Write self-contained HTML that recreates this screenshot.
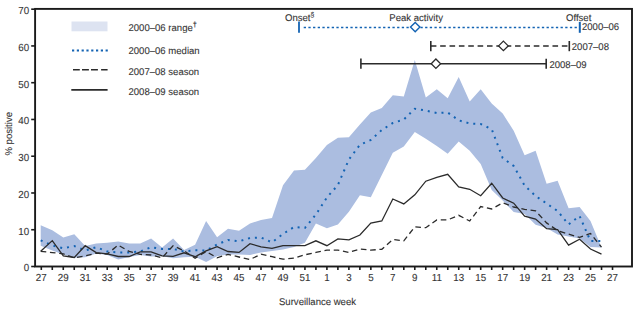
<!DOCTYPE html>
<html><head><meta charset="utf-8"><style>
html,body{margin:0;padding:0;background:#fff;}
svg{display:block;}
text{font-family:"Liberation Sans", sans-serif;text-rendering:geometricPrecision;stroke:#3a3a3a;stroke-width:0.1px;}
</style></head><body>
<svg width="641" height="310" viewBox="0 0 641 310">
<rect x="0" y="0" width="641" height="310" fill="#fff"/>
<polygon points="40.7,225.3 52.3,230.2 63.3,237.4 74.3,234.3 85.2,246.1 96.2,243.5 107.2,242.8 118.2,241.4 129.2,243.4 140.2,243.4 151.1,238.5 162.1,247.6 173.1,238.5 184.1,250.1 195.1,244.7 206.1,221.1 217.1,237.3 228.0,228.8 239.0,230.8 250.0,223.4 261.0,220.0 272.0,218.0 283.0,185.3 294.0,170.5 304.9,169.8 315.9,158.0 326.9,145.0 337.9,137.8 348.9,137.2 359.9,124.5 370.8,112.5 381.8,108.0 392.8,95.3 403.8,96.6 414.8,59.9 425.8,97.6 436.8,89.3 447.7,98.2 458.7,76.9 469.7,101.5 480.7,89.3 491.7,103.4 502.7,113.4 513.7,130.8 524.6,155.3 535.6,150.8 546.6,183.7 557.6,180.8 568.6,208.2 579.6,206.9 590.5,221.0 601.5,247.5 601.5,247.5 590.5,247.0 579.6,238.4 568.6,236.5 557.6,234.5 546.6,228.0 535.6,224.8 524.6,214.0 513.7,212.0 502.7,200.6 491.7,190.0 480.7,164.0 469.7,150.8 458.7,141.5 447.7,153.7 436.8,146.0 425.8,138.8 414.8,131.9 403.8,146.6 392.8,152.8 381.8,175.0 370.8,197.3 359.9,195.3 348.9,211.8 337.9,224.4 326.9,228.2 315.9,223.4 304.9,242.8 294.0,247.0 283.0,249.5 272.0,251.0 261.0,252.4 250.0,255.0 239.0,254.5 228.0,254.5 217.1,256.3 206.1,262.1 195.1,256.7 184.1,257.3 173.1,258.2 162.1,256.3 151.1,256.5 140.2,255.0 129.2,257.0 118.2,259.6 107.2,255.0 96.2,253.5 85.2,257.3 74.3,257.8 63.3,254.4 52.3,250.5 40.7,245.7" fill="#abbde0"/>
<polyline points="40.7,240.3 52.3,245.5 63.3,248.2 74.3,246.1 85.2,250.5 96.2,247.2 107.2,251.5 118.2,252.4 129.2,252.4 140.2,251.5 151.1,247.2 162.1,249.0 173.1,249.0 184.1,251.5 195.1,250.3 206.1,250.5 217.1,244.5 228.0,240.0 239.0,241.4 250.0,238.0 261.0,237.5 272.0,242.4 283.0,234.0 294.0,227.0 304.9,227.9 315.9,214.5 326.9,197.5 337.9,185.0 348.9,159.5 359.9,144.8 370.8,140.0 381.8,130.0 392.8,123.0 403.8,119.5 414.8,108.7 425.8,110.6 436.8,113.0 447.7,112.5 458.7,120.3 469.7,123.5 480.7,124.0 491.7,129.2 502.7,158.0 513.7,166.0 524.6,185.5 535.6,196.0 546.6,203.5 557.6,211.0 568.6,224.5 579.6,216.0 590.5,241.0 601.5,241.0" fill="none" stroke="#1363b3" stroke-width="2" stroke-dasharray="2 4.95"/>
<polyline points="40.7,251.3 52.3,252.6 63.3,253.9 74.3,257.8 85.2,255.8 96.2,253.2 107.2,254.0 118.2,245.1 129.2,251.5 140.2,254.4 151.1,255.0 162.1,257.8 173.1,245.7 184.1,250.9 195.1,258.2 206.1,251.5 217.1,257.8 228.0,254.4 239.0,257.0 250.0,259.5 261.0,254.2 272.0,256.7 283.0,259.2 294.0,258.2 304.9,254.8 315.9,252.4 326.9,250.1 337.9,250.1 348.9,252.4 359.9,249.0 370.8,250.1 381.8,249.3 392.8,239.5 403.8,240.8 414.8,226.9 425.8,227.7 436.8,219.9 447.7,219.9 458.7,215.3 469.7,221.0 480.7,206.5 491.7,209.0 502.7,202.8 513.7,207.0 524.6,209.3 535.6,210.9 546.6,222.9 557.6,230.6 568.6,234.1 579.6,237.4 590.5,233.5 601.5,247.1" fill="none" stroke="#2b2b2b" stroke-width="1.3" stroke-dasharray="5.6 3.7"/>
<polyline points="40.7,251.3 52.3,240.6 63.3,255.8 74.3,257.5 85.2,245.7 96.2,252.6 107.2,253.8 118.2,256.5 129.2,256.5 140.2,251.8 151.1,251.8 162.1,255.9 173.1,256.3 184.1,252.8 195.1,256.7 206.1,250.9 217.1,246.6 228.0,251.5 239.0,252.4 250.0,243.7 261.0,246.8 272.0,248.4 283.0,245.7 294.0,245.7 304.9,245.7 315.9,240.8 326.9,245.7 337.9,238.9 348.9,239.9 359.9,235.0 370.8,223.0 381.8,221.0 392.8,199.0 403.8,203.9 414.8,194.8 425.8,181.2 436.8,177.4 447.7,174.3 458.7,187.0 469.7,189.3 480.7,195.7 491.7,183.2 502.7,198.0 513.7,203.2 524.6,216.1 535.6,219.0 546.6,228.7 557.6,229.7 568.6,245.1 579.6,239.3 590.5,249.0 601.5,254.2" fill="none" stroke="#2b2b2b" stroke-width="1.3"/>
<rect x="35.1" y="8.9" width="596.9" height="257.6" fill="none" stroke="#1a1a1a" stroke-width="1.9"/>
<line x1="31.2" y1="266.50" x2="35" y2="266.50" stroke="#1a1a1a" stroke-width="1.6"/><text transform="translate(29.20,271.40) scale(0.96,1)" text-anchor="end" font-size="10.2" fill="#333333">0</text><line x1="31.2" y1="229.74" x2="35" y2="229.74" stroke="#1a1a1a" stroke-width="1.6"/><text transform="translate(29.20,234.64) scale(0.96,1)" text-anchor="end" font-size="10.2" fill="#333333">10</text><line x1="31.2" y1="192.98" x2="35" y2="192.98" stroke="#1a1a1a" stroke-width="1.6"/><text transform="translate(29.20,197.88) scale(0.96,1)" text-anchor="end" font-size="10.2" fill="#333333">20</text><line x1="31.2" y1="156.22" x2="35" y2="156.22" stroke="#1a1a1a" stroke-width="1.6"/><text transform="translate(29.20,161.12) scale(0.96,1)" text-anchor="end" font-size="10.2" fill="#333333">30</text><line x1="31.2" y1="119.46" x2="35" y2="119.46" stroke="#1a1a1a" stroke-width="1.6"/><text transform="translate(29.20,124.36) scale(0.96,1)" text-anchor="end" font-size="10.2" fill="#333333">40</text><line x1="31.2" y1="82.70" x2="35" y2="82.70" stroke="#1a1a1a" stroke-width="1.6"/><text transform="translate(29.20,87.60) scale(0.96,1)" text-anchor="end" font-size="10.2" fill="#333333">50</text><line x1="31.2" y1="45.94" x2="35" y2="45.94" stroke="#1a1a1a" stroke-width="1.6"/><text transform="translate(29.20,50.84) scale(0.96,1)" text-anchor="end" font-size="10.2" fill="#333333">60</text><line x1="31.2" y1="9.18" x2="35" y2="9.18" stroke="#1a1a1a" stroke-width="1.6"/><text transform="translate(29.20,14.08) scale(0.96,1)" text-anchor="end" font-size="10.2" fill="#333333">70</text><line x1="41.30" y1="266.5" x2="41.30" y2="270" stroke="#1a1a1a" stroke-width="1.6"/><text transform="translate(41.30,280.80) scale(0.96,1)" text-anchor="middle" font-size="10.2" fill="#333333">27</text><line x1="52.28" y1="266.5" x2="52.28" y2="270" stroke="#1a1a1a" stroke-width="1.6"/><line x1="63.27" y1="266.5" x2="63.27" y2="270" stroke="#1a1a1a" stroke-width="1.6"/><text transform="translate(63.27,280.80) scale(0.96,1)" text-anchor="middle" font-size="10.2" fill="#333333">29</text><line x1="74.25" y1="266.5" x2="74.25" y2="270" stroke="#1a1a1a" stroke-width="1.6"/><line x1="85.24" y1="266.5" x2="85.24" y2="270" stroke="#1a1a1a" stroke-width="1.6"/><text transform="translate(85.24,280.80) scale(0.96,1)" text-anchor="middle" font-size="10.2" fill="#333333">31</text><line x1="96.22" y1="266.5" x2="96.22" y2="270" stroke="#1a1a1a" stroke-width="1.6"/><line x1="107.21" y1="266.5" x2="107.21" y2="270" stroke="#1a1a1a" stroke-width="1.6"/><text transform="translate(107.21,280.80) scale(0.96,1)" text-anchor="middle" font-size="10.2" fill="#333333">33</text><line x1="118.19" y1="266.5" x2="118.19" y2="270" stroke="#1a1a1a" stroke-width="1.6"/><line x1="129.18" y1="266.5" x2="129.18" y2="270" stroke="#1a1a1a" stroke-width="1.6"/><text transform="translate(129.18,280.80) scale(0.96,1)" text-anchor="middle" font-size="10.2" fill="#333333">35</text><line x1="140.16" y1="266.5" x2="140.16" y2="270" stroke="#1a1a1a" stroke-width="1.6"/><line x1="151.15" y1="266.5" x2="151.15" y2="270" stroke="#1a1a1a" stroke-width="1.6"/><text transform="translate(151.15,280.80) scale(0.96,1)" text-anchor="middle" font-size="10.2" fill="#333333">37</text><line x1="162.13" y1="266.5" x2="162.13" y2="270" stroke="#1a1a1a" stroke-width="1.6"/><line x1="173.12" y1="266.5" x2="173.12" y2="270" stroke="#1a1a1a" stroke-width="1.6"/><text transform="translate(173.12,280.80) scale(0.96,1)" text-anchor="middle" font-size="10.2" fill="#333333">39</text><line x1="184.11" y1="266.5" x2="184.11" y2="270" stroke="#1a1a1a" stroke-width="1.6"/><line x1="195.09" y1="266.5" x2="195.09" y2="270" stroke="#1a1a1a" stroke-width="1.6"/><text transform="translate(195.09,280.80) scale(0.96,1)" text-anchor="middle" font-size="10.2" fill="#333333">41</text><line x1="206.07" y1="266.5" x2="206.07" y2="270" stroke="#1a1a1a" stroke-width="1.6"/><line x1="217.06" y1="266.5" x2="217.06" y2="270" stroke="#1a1a1a" stroke-width="1.6"/><text transform="translate(217.06,280.80) scale(0.96,1)" text-anchor="middle" font-size="10.2" fill="#333333">43</text><line x1="228.05" y1="266.5" x2="228.05" y2="270" stroke="#1a1a1a" stroke-width="1.6"/><line x1="239.03" y1="266.5" x2="239.03" y2="270" stroke="#1a1a1a" stroke-width="1.6"/><text transform="translate(239.03,280.80) scale(0.96,1)" text-anchor="middle" font-size="10.2" fill="#333333">45</text><line x1="250.01" y1="266.5" x2="250.01" y2="270" stroke="#1a1a1a" stroke-width="1.6"/><line x1="261.00" y1="266.5" x2="261.00" y2="270" stroke="#1a1a1a" stroke-width="1.6"/><text transform="translate(261.00,280.80) scale(0.96,1)" text-anchor="middle" font-size="10.2" fill="#333333">47</text><line x1="271.99" y1="266.5" x2="271.99" y2="270" stroke="#1a1a1a" stroke-width="1.6"/><line x1="282.97" y1="266.5" x2="282.97" y2="270" stroke="#1a1a1a" stroke-width="1.6"/><text transform="translate(282.97,280.80) scale(0.96,1)" text-anchor="middle" font-size="10.2" fill="#333333">49</text><line x1="293.95" y1="266.5" x2="293.95" y2="270" stroke="#1a1a1a" stroke-width="1.6"/><line x1="304.94" y1="266.5" x2="304.94" y2="270" stroke="#1a1a1a" stroke-width="1.6"/><text transform="translate(304.94,280.80) scale(0.96,1)" text-anchor="middle" font-size="10.2" fill="#333333">51</text><line x1="315.93" y1="266.5" x2="315.93" y2="270" stroke="#1a1a1a" stroke-width="1.6"/><line x1="326.91" y1="266.5" x2="326.91" y2="270" stroke="#1a1a1a" stroke-width="1.6"/><text transform="translate(326.91,280.80) scale(0.96,1)" text-anchor="middle" font-size="10.2" fill="#333333">1</text><line x1="337.89" y1="266.5" x2="337.89" y2="270" stroke="#1a1a1a" stroke-width="1.6"/><line x1="348.88" y1="266.5" x2="348.88" y2="270" stroke="#1a1a1a" stroke-width="1.6"/><text transform="translate(348.88,280.80) scale(0.96,1)" text-anchor="middle" font-size="10.2" fill="#333333">3</text><line x1="359.87" y1="266.5" x2="359.87" y2="270" stroke="#1a1a1a" stroke-width="1.6"/><line x1="370.85" y1="266.5" x2="370.85" y2="270" stroke="#1a1a1a" stroke-width="1.6"/><text transform="translate(370.85,280.80) scale(0.96,1)" text-anchor="middle" font-size="10.2" fill="#333333">5</text><line x1="381.83" y1="266.5" x2="381.83" y2="270" stroke="#1a1a1a" stroke-width="1.6"/><line x1="392.82" y1="266.5" x2="392.82" y2="270" stroke="#1a1a1a" stroke-width="1.6"/><text transform="translate(392.82,280.80) scale(0.96,1)" text-anchor="middle" font-size="10.2" fill="#333333">7</text><line x1="403.81" y1="266.5" x2="403.81" y2="270" stroke="#1a1a1a" stroke-width="1.6"/><line x1="414.79" y1="266.5" x2="414.79" y2="270" stroke="#1a1a1a" stroke-width="1.6"/><text transform="translate(414.79,280.80) scale(0.96,1)" text-anchor="middle" font-size="10.2" fill="#333333">9</text><line x1="425.77" y1="266.5" x2="425.77" y2="270" stroke="#1a1a1a" stroke-width="1.6"/><line x1="436.76" y1="266.5" x2="436.76" y2="270" stroke="#1a1a1a" stroke-width="1.6"/><text transform="translate(436.76,280.80) scale(0.96,1)" text-anchor="middle" font-size="10.2" fill="#333333">11</text><line x1="447.75" y1="266.5" x2="447.75" y2="270" stroke="#1a1a1a" stroke-width="1.6"/><line x1="458.73" y1="266.5" x2="458.73" y2="270" stroke="#1a1a1a" stroke-width="1.6"/><text transform="translate(458.73,280.80) scale(0.96,1)" text-anchor="middle" font-size="10.2" fill="#333333">13</text><line x1="469.71" y1="266.5" x2="469.71" y2="270" stroke="#1a1a1a" stroke-width="1.6"/><line x1="480.70" y1="266.5" x2="480.70" y2="270" stroke="#1a1a1a" stroke-width="1.6"/><text transform="translate(480.70,280.80) scale(0.96,1)" text-anchor="middle" font-size="10.2" fill="#333333">15</text><line x1="491.69" y1="266.5" x2="491.69" y2="270" stroke="#1a1a1a" stroke-width="1.6"/><line x1="502.67" y1="266.5" x2="502.67" y2="270" stroke="#1a1a1a" stroke-width="1.6"/><text transform="translate(502.67,280.80) scale(0.96,1)" text-anchor="middle" font-size="10.2" fill="#333333">17</text><line x1="513.65" y1="266.5" x2="513.65" y2="270" stroke="#1a1a1a" stroke-width="1.6"/><line x1="524.64" y1="266.5" x2="524.64" y2="270" stroke="#1a1a1a" stroke-width="1.6"/><text transform="translate(524.64,280.80) scale(0.96,1)" text-anchor="middle" font-size="10.2" fill="#333333">19</text><line x1="535.62" y1="266.5" x2="535.62" y2="270" stroke="#1a1a1a" stroke-width="1.6"/><line x1="546.61" y1="266.5" x2="546.61" y2="270" stroke="#1a1a1a" stroke-width="1.6"/><text transform="translate(546.61,280.80) scale(0.96,1)" text-anchor="middle" font-size="10.2" fill="#333333">21</text><line x1="557.59" y1="266.5" x2="557.59" y2="270" stroke="#1a1a1a" stroke-width="1.6"/><line x1="568.58" y1="266.5" x2="568.58" y2="270" stroke="#1a1a1a" stroke-width="1.6"/><text transform="translate(568.58,280.80) scale(0.96,1)" text-anchor="middle" font-size="10.2" fill="#333333">23</text><line x1="579.56" y1="266.5" x2="579.56" y2="270" stroke="#1a1a1a" stroke-width="1.6"/><line x1="590.55" y1="266.5" x2="590.55" y2="270" stroke="#1a1a1a" stroke-width="1.6"/><text transform="translate(590.55,280.80) scale(0.96,1)" text-anchor="middle" font-size="10.2" fill="#333333">25</text><line x1="601.53" y1="266.5" x2="601.53" y2="270" stroke="#1a1a1a" stroke-width="1.6"/><line x1="612.52" y1="266.5" x2="612.52" y2="270" stroke="#1a1a1a" stroke-width="1.6"/><text transform="translate(612.52,280.80) scale(0.96,1)" text-anchor="middle" font-size="10.2" fill="#333333">27</text>
<text transform="translate(11.5,133.8) rotate(-90) scale(0.975,1)" text-anchor="middle" font-size="9.8" fill="#333333">% positive</text>
<text transform="translate(317.50,304.70) scale(0.975,1)" text-anchor="middle" font-size="9.8" fill="#333333">Surveillance week</text>
<!-- legend -->
<rect x="71.5" y="21.5" width="36" height="9.8" fill="#dde3f1"/>
<line x1="72" y1="50.6" x2="108" y2="50.6" stroke="#1363b3" stroke-width="2" stroke-dasharray="2.2 2.6"/>
<path d="M73,69.8H79.8M82,69.8H88.9M91,69.8H97.9M101.1,69.8H107.6" stroke="#2b2b2b" stroke-width="1.6"/>
<line x1="71.3" y1="89.9" x2="107.6" y2="89.9" stroke="#2b2b2b" stroke-width="1.6"/>
<text transform="translate(128.50,31.00) scale(0.975,1)" text-anchor="start" font-size="9.8" fill="#333333">2000–06 range<tspan font-size="7.5" dy="-4.2" font-weight="bold">†</tspan></text>
<text transform="translate(128.50,53.90) scale(0.975,1)" text-anchor="start" font-size="9.8" fill="#333333">2000–06 median</text>
<text transform="translate(128.50,74.50) scale(0.975,1)" text-anchor="start" font-size="9.8" fill="#333333">2007–08 season</text>
<text transform="translate(128.50,94.60) scale(0.975,1)" text-anchor="start" font-size="9.8" fill="#333333">2008–09 season</text>
<!-- annotations -->
<text transform="translate(285.00,20.60) scale(0.975,1)" text-anchor="start" font-size="9.8" fill="#333333">Onset<tspan font-size="7" dy="-4">§</tspan></text>
<text transform="translate(389.30,20.60) scale(0.975,1)" text-anchor="start" font-size="9.8" fill="#333333">Peak activity</text>
<text transform="translate(566.00,20.90) scale(0.975,1)" text-anchor="start" font-size="9.8" fill="#333333">Offset</text>
<line x1="303.7" y1="27.5" x2="578" y2="27.5" stroke="#1363b3" stroke-width="1.6" stroke-dasharray="2.3 2.37"/>
<line x1="299" y1="21.5" x2="299" y2="32.7" stroke="#1363b3" stroke-width="1.8"/>
<line x1="579.8" y1="21.9" x2="579.8" y2="32.8" stroke="#1363b3" stroke-width="2"/>
<polygon points="415.2,22.4 419.9,27.1 415.2,31.8 410.5,27.1" fill="#fff" stroke="#1363b3" stroke-width="1.4"/>
<text transform="translate(582.00,29.90) scale(0.975,1)" text-anchor="start" font-size="9.8" fill="#333333">2000–06</text>
<line x1="430.8" y1="45.9" x2="569.3" y2="45.9" stroke="#2b2b2b" stroke-width="1.5" stroke-dasharray="5.6 3.76"/>
<line x1="430.8" y1="41" x2="430.8" y2="51.2" stroke="#2b2b2b" stroke-width="1.6"/>
<line x1="569.3" y1="41" x2="569.3" y2="51.2" stroke="#2b2b2b" stroke-width="1.6"/>
<polygon points="503.4,41.1 508.2,45.9 503.4,50.7 498.6,45.9" fill="#fff" stroke="#2b2b2b" stroke-width="1.3"/>
<text transform="translate(571.80,49.70) scale(0.975,1)" text-anchor="start" font-size="9.8" fill="#333333">2007–08</text>
<line x1="360.9" y1="63.7" x2="546.2" y2="63.7" stroke="#2b2b2b" stroke-width="1.5"/>
<line x1="360.9" y1="58.6" x2="360.9" y2="68.7" stroke="#2b2b2b" stroke-width="1.6"/>
<line x1="546.2" y1="58.8" x2="546.2" y2="68.7" stroke="#2b2b2b" stroke-width="1.6"/>
<polygon points="435.9,59 440.6,63.7 435.9,68.4 431.2,63.7" fill="#fff" stroke="#2b2b2b" stroke-width="1.3"/>
<text transform="translate(549.40,67.60) scale(0.975,1)" text-anchor="start" font-size="9.8" fill="#333333">2008–09</text>
</svg>
</body></html>
